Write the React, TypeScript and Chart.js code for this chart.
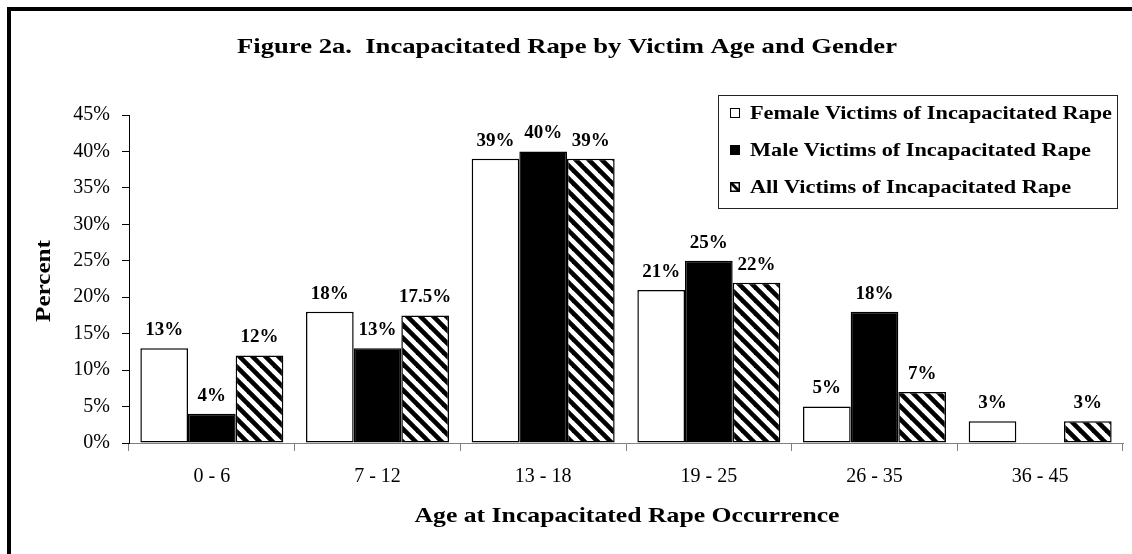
import React, { useEffect, useRef } from "react";
import { Chart, registerables } from "chart.js";

Chart.register(...registerables);

const categories = ["0 - 6", "7 - 12", "13 - 18", "19 - 25", "26 - 35", "36 - 45"];
const femaleValues: (number | null)[] = [13, 18, 39, 21, 5, 3];
const maleValues: (number | null)[] = [4, 13, 40, 25, 18, null];
const allValues: (number | null)[] = [12, 17.5, 39, 22, 7, 3];
const seriesNames = [
  "Female Victims of Incapacitated Rape",
  "Male Victims of Incapacitated Rape",
  "All Victims of Incapacitated Rape",
];
const titleText = "Figure 2a.  Incapacitated Rape by Victim Age and Gender";
const xTitleText = "Age at Incapacitated Rape Occurrence";
const yTitleText = "Percent";
const yMax = 45;
const yStep = 5;

const SERIF = "'Liberation Serif', 'Times New Roman', Times, serif";

function makeHatch(): CanvasPattern | string {
  const s = 13;
  const c = document.createElement("canvas");
  c.width = s;
  c.height = s;
  const g = c.getContext("2d");
  if (!g) return "#888";
  g.fillStyle = "#fff";
  g.fillRect(0, 0, s, s);
  g.strokeStyle = "#000";
  g.lineWidth = 4.6;
  for (let k = -1; k <= 1; k++) {
    g.beginPath();
    g.moveTo(k * s - 2, -2);
    g.lineTo(k * s + s + 2, s + 2);
    g.stroke();
  }
  const p = g.createPattern(c, "repeat");
  return p || "#888";
}

function fitText(
  ctx: CanvasRenderingContext2D,
  text: string,
  cx: number,
  cy: number,
  font: string,
  targetW: number,
  rotate = 0
) {
  ctx.save();
  ctx.font = font;
  const w = ctx.measureText(text).width;
  const sx = targetW / w;
  ctx.translate(cx, cy);
  if (rotate) ctx.rotate(rotate);
  ctx.scale(sx, 1);
  ctx.textAlign = "center";
  ctx.textBaseline = "middle";
  ctx.fillStyle = "#000";
  ctx.fillText(text, 0, 0);
  ctx.restore();
}

export default function App() {
  const ref = useRef<HTMLCanvasElement | null>(null);

  useEffect(() => {
    const canvas = ref.current;
    if (!canvas) return;
    const hatch = makeHatch();

    const decorPlugin = {
      id: "decor",
      beforeDraw(chart: any) {
        const ctx = chart.ctx as CanvasRenderingContext2D;
        ctx.save();
        ctx.fillStyle = "#fff";
        ctx.fillRect(0, 0, chart.width, chart.height);
        ctx.fillStyle = "#000";
        ctx.fillRect(7, 7, chart.width - 7, 4);
        ctx.fillRect(7, 7, 4, chart.height - 7);
        ctx.restore();
      },
      afterDraw(chart: any) {
        const ctx = chart.ctx as CanvasRenderingContext2D;
        fitText(ctx, titleText, 567, 47, `bold 22px ${SERIF}`, 660);
        fitText(ctx, xTitleText, 627, 517, `bold 21px ${SERIF}`, 425);
        fitText(ctx, yTitleText, 45, 281, `bold 21px ${SERIF}`, 82, -Math.PI / 2);

        ctx.save();
        ctx.strokeStyle = "#222";
        ctx.lineWidth = 1;
        ctx.strokeRect(718.5, 95.5, 399, 113);
        const font = `bold 19px ${SERIF}`;
        ctx.font = font;
        const w0 = ctx.measureText(seriesNames[0]).width;
        const sx = 362 / w0;
        const rows = [113, 150, 187];
        for (let i = 0; i < 3; i++) {
          const y = rows[i];
          const bx = 730;
          const by = y - 5;
          const bs = 10;
          if (i === 0) {
            ctx.fillStyle = "#fff";
            ctx.fillRect(bx, by, bs, bs);
            ctx.strokeStyle = "#000";
            ctx.strokeRect(bx + 0.5, by + 0.5, bs - 1, bs - 1);
          } else if (i === 1) {
            ctx.fillStyle = "#000";
            ctx.fillRect(bx, by, bs, bs);
          } else {
            ctx.fillStyle = "#fff";
            ctx.fillRect(bx, by, bs, bs);
            ctx.save();
            ctx.beginPath();
            ctx.rect(bx, by, bs, bs);
            ctx.clip();
            ctx.strokeStyle = "#000";
            ctx.lineWidth = 3;
            ctx.beginPath();
            ctx.moveTo(bx, by);
            ctx.lineTo(bx + bs, by + bs);
            ctx.stroke();
            ctx.restore();
            ctx.strokeStyle = "#000";
            ctx.lineWidth = 1.5;
            ctx.strokeRect(bx + 0.75, by + 0.75, bs - 1.5, bs - 1.5);
            ctx.lineWidth = 1;
          }
          ctx.save();
          ctx.translate(750, y);
          ctx.scale(sx, 1);
          ctx.font = font;
          ctx.fillStyle = "#000";
          ctx.textAlign = "left";
          ctx.textBaseline = "middle";
          ctx.fillText(seriesNames[i], 0, 1);
          ctx.restore();
        }
        ctx.restore();
      },
      afterDatasetsDraw(chart: any) {
        const ctx = chart.ctx as CanvasRenderingContext2D;
        ctx.save();
        ctx.font = `bold 19px ${SERIF}`;
        ctx.fillStyle = "#000";
        ctx.textAlign = "center";
        ctx.textBaseline = "middle";
        chart.data.datasets.forEach((ds: any, di: number) => {
          const meta = chart.getDatasetMeta(di);
          meta.data.forEach((el: any, i: number) => {
            const v = ds.data[i];
            if (v === null || v === undefined) return;
            ctx.fillText(`${v}%`, el.x, el.y - 18);
          });
        });
        ctx.restore();
      },
    };

    const chart = new Chart(canvas, {
      type: "bar",
      data: {
        labels: categories,
        datasets: [
          {
            label: seriesNames[0],
            data: femaleValues,
            backgroundColor: "#fff",
            borderColor: "#000",
            borderWidth: 1.5,
            borderSkipped: false,
          },
          {
            label: seriesNames[1],
            data: maleValues,
            backgroundColor: "#000",
            borderColor: "#000",
            borderWidth: 1.5,
            borderSkipped: false,
          },
          {
            label: seriesNames[2],
            data: allValues,
            backgroundColor: hatch as any,
            borderColor: "#000",
            borderWidth: 1.5,
            borderSkipped: false,
          },
        ],
      },
      options: {
        responsive: false,
        animation: false,
        devicePixelRatio: 1,
        layout: { padding: { top: 115, left: 0, right: 9, bottom: 0 } },
        datasets: {
          bar: { barPercentage: 1, categoryPercentage: 0.863 },
        },
        plugins: {
          legend: { display: false },
          title: { display: false },
          tooltip: { enabled: false },
        },
        scales: {
          x: {
            offset: true,
            grid: {
              display: true,
              drawOnChartArea: false,
              offset: true,
              tickLength: 8,
              color: "#808080",
            },
            border: { display: true, color: "#808080", width: 1 },
            ticks: {
              color: "#000",
              padding: 14,
              font: { family: SERIF, size: 20 },
              maxRotation: 0,
              autoSkip: false,
            },
            afterFit(scale: any) {
              scale.height = 111;
            },
          },
          y: {
            min: 0,
            max: yMax,
            grid: {
              display: true,
              drawOnChartArea: false,
              tickLength: 7,
              color: "#000",
            },
            border: { display: true, color: "#000", width: 1 },
            ticks: {
              stepSize: yStep,
              color: "#000",
              padding: 12,
              font: { family: SERIF, size: 20 },
              callback: (v: any) => `${v}%`,
            },
            afterFit(scale: any) {
              scale.width = 129;
            },
          },
        },
      },
      plugins: [decorPlugin],
    });

    return () => chart.destroy();
  }, []);

  return (
    <div style={{ position: "absolute", left: 0, top: 0, width: 1132, height: 554, background: "#fff" }}>
      <canvas ref={ref} width={1132} height={554} style={{ display: "block", width: 1132, height: 554 }} />
    </div>
  );
}
